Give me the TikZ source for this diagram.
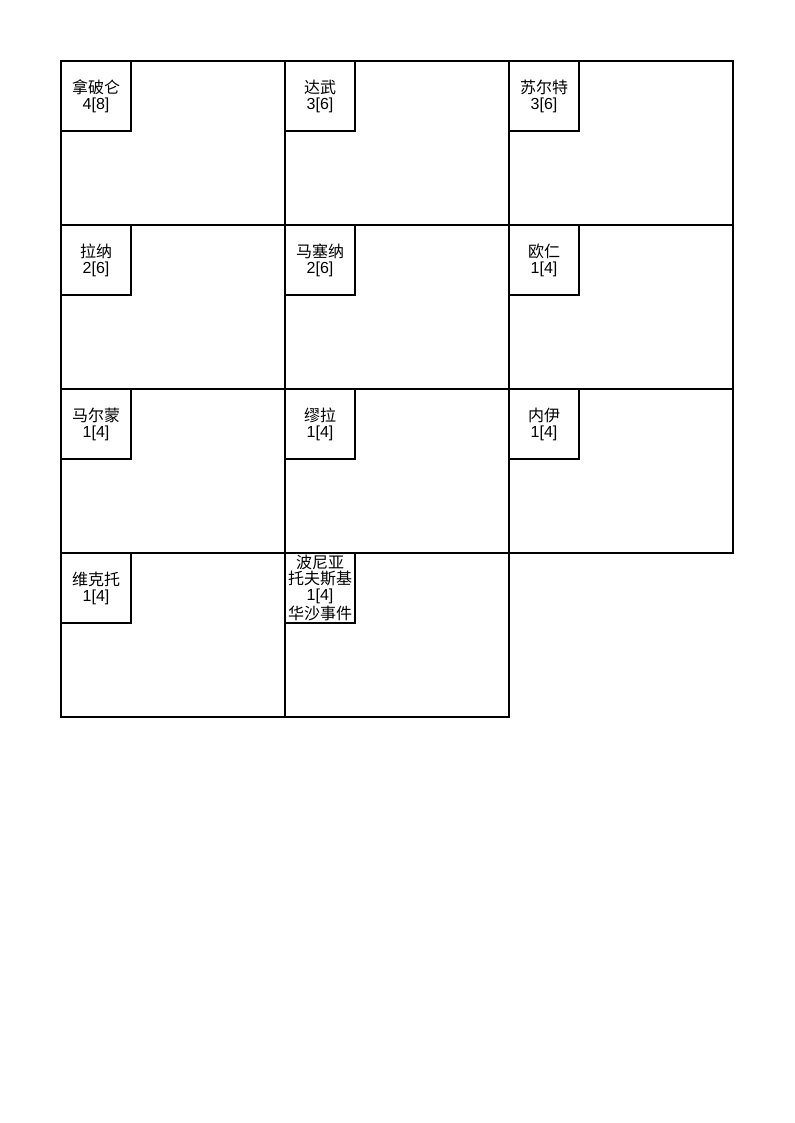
\documentclass[tikz,border=0pt]{standalone}
\usepackage{fontspec}
\setmainfont{Liberation Sans}
\newfontfamily\cjk{Noto Sans CJK SC}
\tikzset{
  marshal/.style={draw, line width=1.5pt, minimum width=168pt, minimum height=123pt,
    inner sep=0pt, outer sep=0pt, anchor=north west},
  rank/.style={draw, line width=1.5pt, minimum size=52.5pt, inner sep=0pt, outer sep=0pt,
    align=center, font=\fontsize{12}{12}\selectfont, anchor=north west},
}
\begin{document}
\begin{tikzpicture}[x=0.75pt,y=-0.75pt]
  \useasboundingbox (0,0) rectangle (794,1123);
  \foreach \name/\col/\row/\txt in {
    napoleon/0/0/{{\cjk 拿破仑}\\4[8]},
    davout/1/0/{{\cjk 达武}\\3[6]},
    soult/2/0/{{\cjk 苏尔特}\\3[6]},
    lannes/0/1/{{\cjk 拉纳}\\2[6]},
    massena/1/1/{{\cjk 马塞纳}\\2[6]},
    eugene/2/1/{{\cjk 欧仁}\\1[4]},
    marmont/0/2/{{\cjk 马尔蒙}\\1[4]},
    murat/1/2/{{\cjk 缪拉}\\1[4]},
    ney/2/2/{{\cjk 内伊}\\1[4]},
    victor/0/3/{{\cjk 维克托}\\1[4]},
    poniatowski/1/3/{{\cjk 波尼亚}\\{\cjk 托夫斯基}\\1[4]\\{\cjk 华沙事件}}}
  {
    \node[marshal] (\name) at (61+224*\col, 61+164*\row) {};
    \node[rank] (\name-tag) at (\name.north west) {\txt};
  }
\end{tikzpicture}
\end{document}
